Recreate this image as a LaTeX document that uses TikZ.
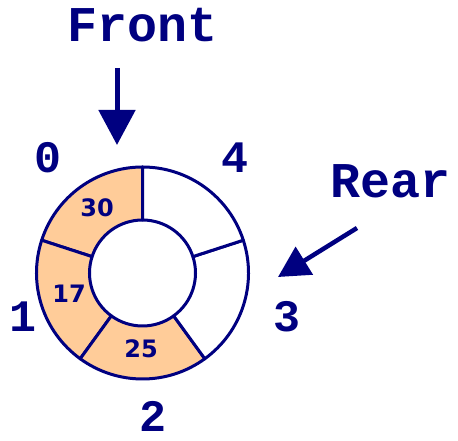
\documentclass[tikz,border=0pt]{standalone}
\usepackage{fontspec}
\usetikzlibrary{arrows.meta}
\newfontfamily\monofnt{Liberation Mono}
\newfontfamily\sansfnt{DejaVu Sans}
\definecolor{navy}{HTML}{000080}
\definecolor{peach}{HTML}{FFCC99}
\begin{document}
\begin{tikzpicture}[x=1pt,y=1pt,
  seg/.style={draw=navy,line width=3pt,line join=round},
  full/.style={seg,fill=peach},
  empty/.style={seg,fill=white},
  bigtxt/.style={inner sep=0pt,anchor=base,text=navy,font=\monofnt\bfseries\fontsize{50}{50}\selectfont},
  idx/.style={inner sep=0pt,anchor=base,text=navy,font=\monofnt\bfseries\fontsize{45}{45}\selectfont},
  val/.style={inner sep=0pt,anchor=base,text=navy,font=\sansfnt\bfseries\fontsize{24}{24}\selectfont},
  ptr/.style={draw=navy,line width=5pt,-{Triangle[width=36pt,length=35pt]}}
]
\useasboundingbox (0,0) rectangle (458,441);
\def\R{106}\def\r{53}
\begin{scope}[shift={(142.5,168)}]
  \draw[full]  (90:\R)  arc[start angle=90,end angle=162,radius=\R]  -- (162:\r) arc[start angle=162,end angle=90,radius=\r] -- cycle;
  \draw[full]  (162:\R) arc[start angle=162,end angle=234,radius=\R] -- (234:\r) arc[start angle=234,end angle=162,radius=\r] -- cycle;
  \draw[full]  (234:\R) arc[start angle=234,end angle=306,radius=\R] -- (306:\r) arc[start angle=306,end angle=234,radius=\r] -- cycle;
  \draw[empty] (306:\R) arc[start angle=306,end angle=378,radius=\R] -- (378:\r) arc[start angle=378,end angle=306,radius=\r] -- cycle;
  \draw[empty] (18:\R)  arc[start angle=18,end angle=90,radius=\R]   -- (90:\r) arc[start angle=90,end angle=18,radius=\r] -- cycle;
\end{scope}
\node[val] (v0) at (97,224) {30};
\node[val] (v1) at (69,138) {17};
\node[val] (v2) at (141,83) {25};
\node[idx] (i0) at (48,268) {0};
\node[idx] (i4) at (235,268) {4};
\node[idx] (i1) at (23,109) {1};
\node[idx] (i3) at (287,109) {3};
\node[idx] (i2) at (153,9) {2};
\node[bigtxt] (front) at (143,399) {Front};
\node[bigtxt] (rear) at (391,243) {Rear};
\coordinate (fs) at (117,373);
\coordinate (ft) at (117,296);
\coordinate (rs) at (357,213);
\coordinate (rt) at (278,164);
\draw[ptr] (fs) -- (ft);
\draw[draw=navy,line width=4.5pt,-{Triangle[width=32pt,length=31pt]}] (rs) -- (rt);
\end{tikzpicture}
\end{document}
